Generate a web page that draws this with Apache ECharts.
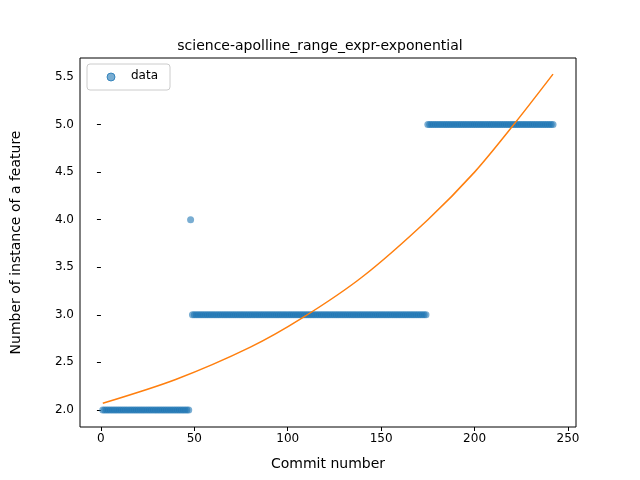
<!DOCTYPE html>
<html><head><meta charset="utf-8">
<script src="https://cdn.jsdelivr.net/npm/echarts@6/dist/echarts.min.js"></script>
<style>body{margin:0}#c{width:640px;height:480px}</style></head>
<body><div id="c"></div>
<script>
// runs of constant value: [first commit, last commit, value]
var dataRuns = [[1, 47, 2], [48, 48, 4], [49, 174, 3], [175, 242, 5]];
// fitted exponential curve
var fitX = [1, 40, 80, 108, 140, 175, 200, 221, 242];
var fitY = [2.07, 2.32, 2.66, 2.97, 3.40, 4.0, 4.50, 5.0, 5.53];
var xTicks = [0, 50, 100, 150, 200, 250];
var yTicks = [2.0, 2.5, 3.0, 3.5, 4.0, 4.5, 5.0, 5.5];

var pts = [];
dataRuns.forEach(function (r) {
	for (var i = r[0]; i <= r[1]; i++) pts.push([i, r[2]]);
});
var fit = fitX.map(function (x, i) { return [x, fitY[i]]; });

var chart = echarts.init(document.getElementById('c'));
chart.setOption({
	animation: false,
	title: { text: 'science-apolline_range_expr-exponential', left: 'center', top: 34,
		textStyle: { fontSize: 14, fontWeight: 'normal', color: '#000', fontFamily: 'DejaVu Sans' } },
	graphic: [{ type: 'rect', shape: { x: 87, y: 64, width: 83, height: 26, r: 3 },
		style: { fill: '#fff', stroke: '#ccc', lineWidth: 1 }, z: 90 },
		{ type: 'circle', shape: { cx: 111, cy: 77, r: 4 },
		style: { fill: 'rgba(31,119,180,0.6)', stroke: 'rgba(31,119,180,0.8)' }, z: 91 },
		{ type: 'text', x: 131, y: 70, style: { text: 'data', fontSize: 12, fill: '#000', fontFamily: 'DejaVu Sans' }, z: 91 }],
	grid: { left: 80, right: 64, top: 58, bottom: 53, show: true, borderColor: '#000', borderWidth: 1, backgroundColor: 'transparent', z: 5 },
	xAxis: { type: 'value', min: -11.2, max: 254.3,
		name: 'Commit number', nameLocation: 'middle', nameGap: 30,
		nameTextStyle: { fontSize: 14, color: '#000', fontFamily: 'DejaVu Sans' },
		axisLine: { show: false }, splitLine: { show: false },
		axisTick: { show: true, length: 4, customValues: xTicks, lineStyle: { color: '#000' } },
		axisLabel: { color: '#000', fontSize: 12, margin: 6, fontFamily: 'DejaVu Sans', customValues: xTicks } },
	yAxis: { type: 'value', min: 1.82, max: 5.70,
		name: 'Number of instance of a feature', nameLocation: 'middle', nameGap: 57,
		nameTextStyle: { fontSize: 14, color: '#000', fontFamily: 'DejaVu Sans' },
		axisLine: { show: false }, splitLine: { show: false },
		axisTick: { show: true, length: 4, customValues: yTicks, lineStyle: { color: '#000' } },
		axisLabel: { color: '#000', fontSize: 12, margin: 6, fontFamily: 'DejaVu Sans', customValues: yTicks,
			formatter: function (v) { return v.toFixed(1); } } },
	series: [
		{ type: 'scatter', data: pts, symbolSize: 7,
			itemStyle: { color: '#1f77b4', opacity: 0.6 } },
		{ type: 'line', data: fit, smooth: 0.3, showSymbol: false,
			lineStyle: { color: '#ff7f0e', width: 1.5 } }
	]
});
</script></body></html>
